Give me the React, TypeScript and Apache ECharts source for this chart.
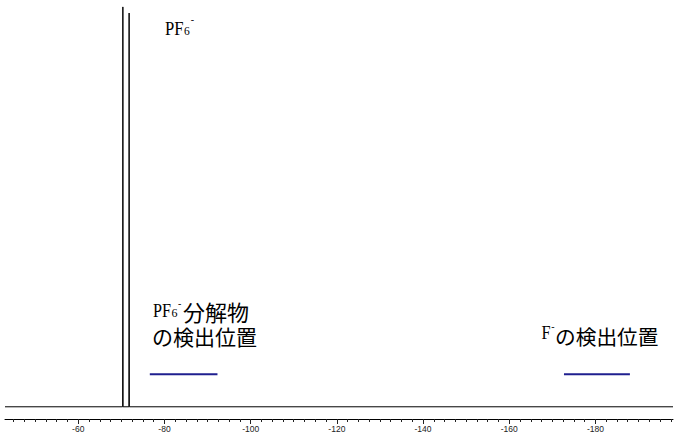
import { useEffect, useRef } from 'react'
import * as echarts from 'echarts'

// 19F NMR spectrum (ppm), axis runs from high to low field
const xMin = -198
const xMax = -43
const tickLabels = [-60, -80, -100, -120, -140, -160, -180]
const minorTicks = Array.from({ length: 62 }, (_, i) => -45 - 2.5 * i)

// spectrum trace: PF6- doublet on a flat baseline
const shifts = [-43, -70.3, -70.35, -70.4, -71.75, -71.8, -71.85, -198]
const intensities = [0, 0, 98.3, 0, 0, 96.8, 0, 0]

// detection ranges (ppm) drawn as blue bars
const decompRange = [-76.6, -92.3]
const fluorideRange = [-172.7, -188.0]
const rangeLevel = 8

const serif = 'Liberation Serif, Times New Roman, serif'
const cjk = 'Noto Sans CJK JP, sans-serif'

function txt(text: string, x: number, y: number, size: number, family: string, scaleX = 1) {
  return {
    type: 'text',
    x,
    y,
    scaleX,
    silent: true,
    style: {
      text,
      fill: '#000',
      font: `${size}px ${family}`,
      align: 'left',
      verticalAlign: 'middle'
    }
  }
}

export default function App() {
  const chartRef = useRef<HTMLDivElement>(null)

  useEffect(() => {
    if (!chartRef.current) return
    const chart = echarts.init(chartRef.current, null, { renderer: 'svg' })

    const axisBase = {
      type: 'value',
      min: xMin,
      max: xMax,
      inverse: true,
      position: 'bottom',
      splitLine: { show: false }
    }

    chart.setOption({
      animation: false,
      grid: { left: 5, right: 7, top: 0, bottom: 19 },
      xAxis: [
        {
          ...axisBase,
          axisLine: { show: true, onZero: false, lineStyle: { color: '#000', width: 1 } },
          axisTick: { show: true, length: 3, customValues: minorTicks, lineStyle: { color: '#222' } },
          axisLabel: { show: false }
        },
        {
          ...axisBase,
          axisLine: { show: false, onZero: false },
          axisTick: { show: true, length: 5, customValues: tickLabels, lineStyle: { color: '#222' } },
          axisLabel: {
            show: true,
            customValues: tickLabels,
            fontSize: 8.5,
            margin: 5,
            color: '#222',
            fontFamily: 'Liberation Sans, Arial, sans-serif'
          }
        }
      ],
      yAxis: { type: 'value', min: -3, max: 100, show: false },
      series: [
        {
          type: 'line',
          xAxisIndex: 0,
          data: shifts.map((s, i) => [s, intensities[i]]),
          symbol: 'none',
          lineStyle: { color: '#000', width: 1 }
        },
        {
          type: 'line',
          xAxisIndex: 0,
          data: decompRange.map((s) => [s, rangeLevel]),
          symbol: 'none',
          lineStyle: { color: '#1f1f8f', width: 2 }
        },
        {
          type: 'line',
          xAxisIndex: 0,
          data: fluorideRange.map((s) => [s, rangeLevel]),
          symbol: 'none',
          lineStyle: { color: '#1f1f8f', width: 2 }
        }
      ],
      graphic: [
        // PF6- peak label
        txt('PF', 165, 28.3, 18.5, serif, 0.9),
        txt('6', 184, 30.6, 11.5, serif),
        txt('-', 190.8, 19.5, 10, serif),
        // PF6- decomposition products
        txt('PF', 153, 310.8, 18, serif, 0.9),
        txt('6', 171.5, 312.6, 12, serif),
        txt('-', 178, 303.5, 10, serif),
        {
          type: 'text',
          x: 152,
          y: 298,
          silent: true,
          style: {
            text: '{a|分解物}\n{b|の検出位置}',
            fill: '#000',
            align: 'left',
            verticalAlign: 'top',
            rich: {
              a: { fontSize: 22, fontFamily: cjk, lineHeight: 25, padding: [0, 0, 0, 31] },
              b: { fontSize: 21, fontFamily: cjk, lineHeight: 25 }
            }
          }
        },
        // fluoride
        txt('F', 541.5, 333.3, 18, serif, 0.9),
        txt('-', 551.3, 326.5, 10, serif),
        txt('の検出位置', 555, 335.5, 20.7, cjk)
      ]
    })

    return () => chart.dispose()
  }, [])

  return (
    <div
      ref={chartRef}
      style={{ position: 'fixed', left: 0, top: 0, width: 680, height: 438, background: '#fff' }}
    />
  )
}
